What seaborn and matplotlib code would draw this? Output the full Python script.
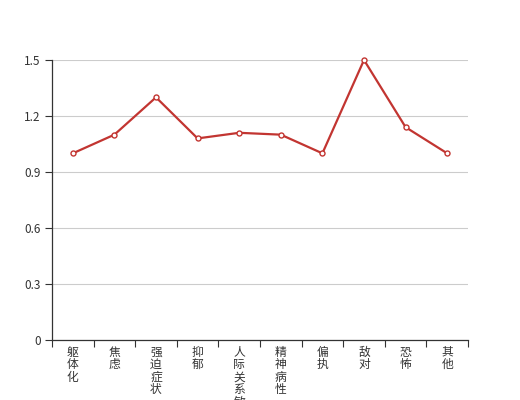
import matplotlib
matplotlib.use("Agg")
import matplotlib.pyplot as plt
import seaborn as sns
import pandas as pd
from matplotlib.ticker import FixedLocator

categories = ["躯体化", "焦虑", "强迫症状", "抑郁", "人际关系敏感", "精神病性", "偏执", "敌对", "恐怖", "其他"]
values = [1.0, 1.1, 1.3, 1.08, 1.11, 1.1, 1.0, 1.5, 1.14, 1.0]
yticks = [0, 0.3, 0.6, 0.9, 1.2, 1.5]
ytick_labels = ["0", "0.3", "0.6", "0.9", "1.2", "1.5"]

sns.set_style("white")
plt.rcParams['font.family'] = ['Noto Sans CJK SC', 'DejaVu Sans']

df = pd.DataFrame({"cat": categories, "val": values})

fig = plt.figure(figsize=(5.2, 4.0), dpi=100)
ax = fig.add_axes([0.1, 0.15, 0.8, 0.7])

sns.lineplot(data=df, x="cat", y="val", ax=ax, sort=False, color="#c23531",
             linewidth=1.6, marker="o", markersize=3.6, markerfacecolor="white",
             markeredgecolor="#c23531", markeredgewidth=1.0, zorder=3, clip_on=False)

ax.set_xlim(-0.5, len(categories) - 0.5)
ax.set_ylim(0, 1.5)
ax.set_yticks(yticks)
ax.set_yticklabels(ytick_labels)
ax.yaxis.grid(True, color="#cccccc", linewidth=0.8)
ax.xaxis.grid(False)
ax.set_axisbelow(True)

ax.set_xticks(range(len(categories)))
ax.set_xticklabels(["\n".join(c) for c in categories], va="top", linespacing=0.95)
ax.xaxis.set_minor_locator(FixedLocator([i - 0.5 for i in range(len(categories) + 1)]))
ax.tick_params(axis="x", which="major", length=0, pad=4, labelsize=8.5, colors="#333333")
ax.tick_params(axis="x", which="minor", length=5, width=0.8, color="#333333", direction="out", bottom=True)
ax.tick_params(axis="y", length=5, width=0.8, color="#333333", direction="out", left=True,
               labelsize=8.5, labelcolor="#333333", pad=3)

for s in ["top", "right"]:
    ax.spines[s].set_visible(False)
for s in ["left", "bottom"]:
    ax.spines[s].set_color("#333333")
    ax.spines[s].set_linewidth(0.9)

ax.set_xlabel("")
ax.set_ylabel("")

fig.savefig("out.png", dpi=100)
